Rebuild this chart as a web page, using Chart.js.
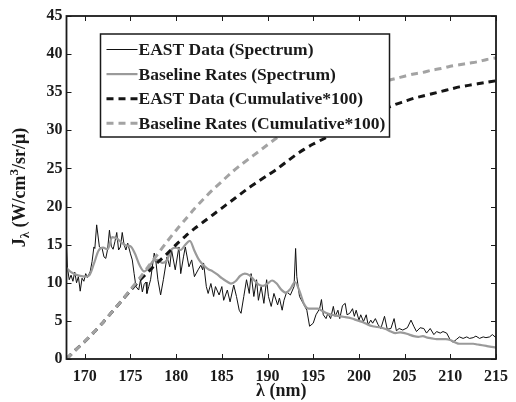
<!DOCTYPE html>
<html>
<head>
<meta charset="utf-8">
<script src="https://cdn.jsdelivr.net/npm/chart.js@4.4.1/dist/chart.umd.min.js"></script>
<style>
  html, body { margin: 0; padding: 0; background: #fff; }
</style>
</head>
<body>
<canvas id="spectrumChart" width="516" height="402"></canvas>
<script>
// EAST measured spectrum (nm, J)
const eastWl = [168.0, 168.1, 168.3, 168.5, 168.7, 168.9, 169.1, 169.3, 169.5, 169.7, 169.9,
  170.1, 170.3, 170.6, 170.8, 171.0, 171.1, 171.3, 171.6, 171.9, 172.1, 172.3, 172.5, 172.7, 172.9,
  173.1, 173.3, 173.5, 173.7, 173.9, 174.1, 174.3, 174.5, 174.7, 175.0, 175.2, 175.4, 175.6, 175.9,
  176.1, 176.3, 176.5, 176.7, 176.8, 177.0, 177.2, 177.6, 177.8, 178.0, 178.3, 178.6, 179.0, 179.3,
  179.5, 179.9, 180.3, 180.5, 180.8, 181.0, 181.4, 181.7, 182.0, 182.4, 182.7, 182.9, 183.0, 183.3,
  183.5, 183.8, 184.1, 184.3, 184.7, 185.0, 185.2, 185.6, 185.9, 186.3, 186.6, 186.9, 187.1, 187.4,
  187.7, 188.0, 188.2, 188.5, 188.8, 189.0, 189.3, 189.6, 189.9, 190.1, 190.4, 190.7, 191.1, 191.3,
  191.6, 191.8, 192.1, 192.5, 192.9, 193.07, 193.2, 193.5, 193.9, 194.3, 194.6, 195.0, 195.3, 195.7,
  195.9, 196.1, 196.4, 196.6, 196.9, 197.2, 197.4, 197.7, 197.9, 198.2, 198.5, 198.7, 199.0, 199.3,
  199.5, 199.7, 200.0, 200.2, 200.5, 200.8, 201.0, 201.3, 201.5, 201.8, 202.1, 202.4, 202.8, 203.1,
  203.5, 203.85, 204.1, 204.4, 204.8, 205.3, 205.7, 206.0, 206.3, 206.7, 207.1, 207.4, 207.8, 208.2,
  208.5, 208.9, 209.2, 209.6, 210.0, 210.3, 210.7, 211.0, 211.4, 211.8, 212.1, 212.5, 212.8, 213.2,
  213.6, 213.9, 214.3, 214.6, 215.0];
const eastJ = [15.0, 12.0, 10.4, 11.0, 10.2, 11.4, 10.0, 10.8, 8.9, 10.6, 10.2,
  11.2, 10.7, 11.5, 12.8, 14.7, 14.5, 17.6, 14.7, 14.5, 13.4, 13.2, 14.4, 16.9, 14.8,
  14.4, 15.4, 16.6, 14.3, 14.7, 16.6, 15.0, 14.3, 15.2, 13.8, 13.0, 11.2, 9.5, 9.05,
  10.4, 8.8, 9.8, 10.1, 8.6, 9.5, 10.4, 13.9, 12.6, 10.4, 8.4, 10.4, 13.4, 12.1,
  14.3, 11.7, 14.7, 11.2, 13.4, 14.7, 12.1, 13.0, 10.8, 11.7, 12.3, 11.7, 12.6, 9.5,
  8.6, 9.9, 8.2, 9.5, 8.4, 9.5, 7.7, 9.05, 7.5, 9.7, 8.2, 6.4, 6.0, 8.2,
  10.4, 8.6, 11.2, 8.2, 10.4, 7.7, 9.5, 7.3, 10.4, 8.2, 6.9, 8.6, 7.1, 8.0,
  6.4, 7.7, 8.8, 8.4, 9.5, 14.5, 10.8, 8.2, 7.3, 6.4, 4.3, 4.7, 5.8, 6.6,
  7.8, 5.8, 5.3, 6.0, 5.3, 6.9, 5.6, 6.4, 5.3, 7.0, 7.3, 5.8, 6.0, 6.6,
  5.6, 6.4, 5.1, 5.8, 4.9, 5.8, 4.5, 5.1, 4.7, 5.3, 4.5, 4.0, 5.6, 3.9,
  4.0, 5.3, 3.7, 4.0, 3.8, 4.1, 5.1, 4.3, 3.6, 4.1, 4.0, 3.4, 4.0, 3.2,
  3.6, 3.4, 3.6, 3.4, 2.5, 2.2, 2.6, 2.9, 2.7, 2.9, 2.7, 2.8, 3.0, 2.7,
  2.9, 2.8, 2.9, 3.2, 2.8];

// baseline-rate spectrum, every 0.5 nm
const baseWl = [168.0, 168.5, 169.0, 169.5, 170.0, 170.5, 171.0, 171.5, 172.0, 172.5, 173.0, 173.5,
  174.0, 174.5, 175.0, 175.5, 176.0, 176.5, 177.0, 177.5, 178.0, 178.5, 179.0, 179.5, 180.0, 180.5,
  181.0, 181.5, 182.0, 182.5, 183.0, 183.5, 184.0, 184.5, 185.0, 185.5, 186.0, 186.5, 187.0, 187.5,
  188.0, 188.5, 189.0, 189.5, 190.0, 190.5, 191.0, 191.5, 192.0, 192.5, 193.0, 193.5, 194.0, 194.5,
  195.0, 195.5, 196.0, 196.5, 197.0, 197.5, 198.0, 198.5, 199.0, 199.5, 200.0, 200.5, 201.0, 201.5,
  202.0, 202.5, 203.0, 203.5, 204.0, 204.5, 205.0, 205.5, 206.0, 206.5, 207.0, 207.5, 208.0, 208.5,
  209.0, 209.5, 210.0, 210.5, 211.0, 211.5, 212.0, 212.5, 213.0, 213.5, 214.0, 214.5, 215.0];
const baseJ = [11.9, 11.4, 11.1, 10.9, 10.8, 11.0, 12.5, 14.2, 14.6, 14.4, 16.0, 15.8,
  15.3, 14.9, 14.8, 13.8, 12.3, 11.5, 12.0, 12.9, 13.0, 12.6, 13.0, 14.4, 14.6, 14.3,
  15.0, 15.5, 14.2, 13.0, 12.3, 11.8, 11.5, 11.1, 10.6, 10.2, 9.9, 10.2, 10.9, 11.2,
  11.0, 10.4, 9.8, 9.6, 9.9, 10.3, 9.9, 9.1, 8.7, 9.2, 10.1, 8.9, 7.2, 6.6,
  6.6, 6.6, 6.3, 6.0, 5.8, 5.7, 5.6, 5.5, 5.4, 5.2, 5.0, 4.8, 4.5, 4.3,
  4.2, 4.1, 3.9, 3.6, 3.4, 3.5, 3.4, 3.2, 3.0, 2.9, 3.0, 2.8, 2.7, 2.6,
  2.6, 2.6, 2.5, 2.2, 2.0, 2.0, 2.0, 2.0, 1.9, 1.8, 1.7, 1.6, 1.5];

// cumulative integrals (x100), every 1 nm
const cumWl = [168, 169, 170, 171, 172, 173, 174, 175, 176, 177, 178, 179, 180, 181, 182, 183,
  184, 185, 186, 187, 188, 189, 190, 191, 192, 193, 194, 195, 196, 197, 198, 199,
  200, 201, 202, 203, 204, 205, 206, 207, 208, 209, 210, 211, 212, 213, 214, 215];
const eastCum = [0, 1.2, 2.3, 3.5, 4.8, 6.2, 7.6, 9.0, 10.3, 11.5, 12.7, 13.8, 15.0, 16.1, 17.1, 18.0,
  18.9, 19.8, 20.7, 21.6, 22.5, 23.3, 24.1, 24.9, 25.8, 26.7, 27.5, 28.2, 28.8, 29.4, 30.0, 30.6,
  31.2, 31.8, 32.3, 32.9, 33.4, 33.8, 34.2, 34.5, 34.8, 35.1, 35.4, 35.7, 35.9, 36.1, 36.3, 36.5];
const baseCum = [0, 1.2, 2.3, 3.5, 4.8, 6.2, 7.6, 9.1, 10.6, 12.2, 13.8, 15.4, 16.9, 18.3, 19.7, 21.0,
  22.2, 23.3, 24.4, 25.4, 26.3, 27.2, 28.1, 29.0, 29.8, 30.6, 31.4, 32.1, 32.8, 33.4, 34.0, 34.6,
  35.1, 35.6, 36.1, 36.5, 36.8, 37.1, 37.4, 37.6, 37.9, 38.1, 38.4, 38.6, 38.8, 39.0, 39.3, 39.5];

const xTicks = [170, 175, 180, 185, 190, 195, 200, 205, 210, 215];
const yTicks = [0, 5, 10, 15, 20, 25, 30, 35, 40, 45];

const seriesNames = ['EAST Data (Spectrum)', 'Baseline Rates (Spectrum)',
  'EAST Data (Cumulative*100)', 'Baseline Rates (Cumulative*100)'];

const pts = (xs, ys) => xs.map((v, i) => ({ x: v, y: ys[i] }));
const serif = '"Liberation Serif", "Times New Roman", serif';

// box, inward ticks, legend and axis labels
const frame = {
  id: 'frame',
  afterDatasetsDraw(chart) {
    const { ctx, chartArea: a, scales: { x, y } } = chart;
    ctx.save();
    ctx.strokeStyle = '#1a1a1a';
    ctx.lineWidth = 1;
    ctx.beginPath();
    xTicks.forEach(v => {
      const px = Math.round(x.getPixelForValue(v)) + 0.5;
      ctx.moveTo(px, a.bottom); ctx.lineTo(px, a.bottom - 5);
      ctx.moveTo(px, a.top); ctx.lineTo(px, a.top + 5);
    });
    yTicks.forEach(v => {
      const py = Math.round(y.getPixelForValue(v)) + 0.5;
      ctx.moveTo(a.left, py); ctx.lineTo(a.left + 5, py);
      ctx.moveTo(a.right, py); ctx.lineTo(a.right - 5, py);
    });
    ctx.stroke();
    ctx.lineWidth = 1.8;
    ctx.strokeRect(a.left, a.top, a.right - a.left, a.bottom - a.top);

    // legend
    const lx = a.left + 34, ly = a.top + 18, lw = 289, lh = 103;
    ctx.fillStyle = '#fff';
    ctx.fillRect(lx, ly, lw, lh);
    ctx.lineWidth = 1.5;
    ctx.strokeRect(lx, ly, lw, lh);
    ctx.font = 'bold 17.5px ' + serif;
    ctx.textBaseline = 'middle';
    ctx.textAlign = 'left';
    chart.data.datasets.forEach((ds, i) => {
      const ry = ly + 15.5 + i * 24.6;
      ctx.save();
      ctx.strokeStyle = ds.borderColor;
      ctx.lineWidth = ds.borderWidth;
      ctx.setLineDash(ds.borderDash || []);
      ctx.beginPath();
      ctx.moveTo(lx + 6, ry); ctx.lineTo(lx + 37, ry);
      ctx.stroke();
      ctx.restore();
      ctx.fillStyle = '#1a1a1a';
      ctx.fillText(ds.label, lx + 38, ry + 1);
    });

    // x title
    ctx.fillStyle = '#1a1a1a';
    ctx.textBaseline = 'alphabetic';
    ctx.textAlign = 'center';
    ctx.font = 'bold 18px ' + serif;
    ctx.fillText('λ (nm)', (a.left + a.right) / 2, 396);

    // y title with sub/superscripts
    const big = 'bold 18px ' + serif, small = 'bold 13px ' + serif;
    const parts = [['J', big, 0], ['λ', small, 4], [' (W/cm', big, 0], ['3', small, -7], ['/sr/μ)', big, 0]];
    let total = 0;
    parts.forEach(p => { ctx.font = p[1]; total += ctx.measureText(p[0]).width; });
    ctx.translate(25, (a.top + a.bottom) / 2);
    ctx.rotate(-Math.PI / 2);
    ctx.textAlign = 'left';
    let cx = -total / 2;
    parts.forEach(p => {
      ctx.font = p[1];
      ctx.fillText(p[0], cx, p[2]);
      cx += ctx.measureText(p[0]).width;
    });
    ctx.restore();
  }
};

new Chart(document.getElementById('spectrumChart'), {
  type: 'line',
  data: {
    datasets: [
      { label: seriesNames[0], data: pts(eastWl, eastJ), borderColor: '#111', borderWidth: 1,
        pointRadius: 0, tension: 0, order: 4 },
      { label: seriesNames[1], data: pts(baseWl, baseJ), borderColor: '#9a9a9a', borderWidth: 2.2,
        pointRadius: 0, cubicInterpolationMode: 'monotone', order: 3 },
      { label: seriesNames[2], data: pts(cumWl, eastCum), borderColor: '#151515', borderWidth: 3,
        borderDash: [7, 5], pointRadius: 0, tension: 0.3, order: 2 },
      { label: seriesNames[3], data: pts(cumWl, baseCum), borderColor: '#a3a3a3', borderWidth: 3,
        borderDash: [7, 5], pointRadius: 0, tension: 0.3, order: 1 }
    ]
  },
  options: {
    responsive: false,
    animation: false,
    events: [],
    layout: { padding: { left: 0, top: 16, right: 15, bottom: 0 } },
    plugins: { legend: { display: false }, tooltip: { enabled: false } },
    scales: {
      x: {
        type: 'linear', min: 168, max: 215,
        grid: { display: false, drawTicks: false }, border: { display: false },
        afterBuildTicks: s => { s.ticks = xTicks.map(v => ({ value: v })); },
        afterFit: s => { s.height = 43; },
        ticks: { color: '#1a1a1a', padding: 8, maxRotation: 0, autoSkip: false,
          font: { family: serif, size: 16, weight: 'bold' } }
      },
      y: {
        type: 'linear', min: 0, max: 45,
        grid: { display: false, drawTicks: false }, border: { display: false },
        afterBuildTicks: s => { s.ticks = yTicks.map(v => ({ value: v })); },
        afterFit: s => { s.width = 66.5; },
        ticks: { color: '#1a1a1a', padding: 4,
          font: { family: serif, size: 16, weight: 'bold' } }
      }
    }
  },
  plugins: [frame]
});
</script>
</body>
</html>
